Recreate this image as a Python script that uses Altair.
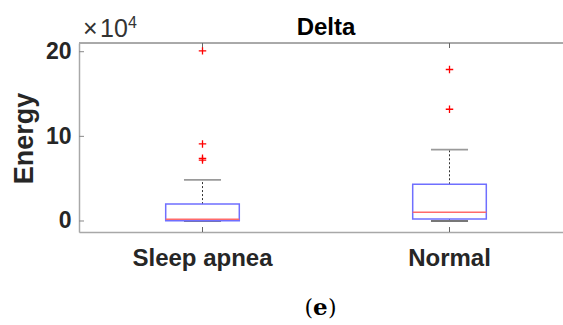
import altair as alt
import pandas as pd

# Delta-band energy (units of 10^4) per group
groups = ["Sleep apnea", "Normal"]
whisker_lo = [0.0, 0.0]
q1 = [0.02, 0.24]
median = [0.2, 1.03]
q3 = [2.0, 4.34]
whisker_hi = [4.85, 8.44]
outlier_group = ["Sleep apnea", "Sleep apnea", "Sleep apnea", "Sleep apnea", "Normal", "Normal"]
outlier_value = [7.2, 7.4, 9.1, 20.1, 13.2, 17.9]
y_ticks = [0, 10, 20]

W, H = 484, 189
X_DOMAIN = [0.5, 0.5 + W / 247.0]
Y_DOMAIN = [-1.3, 21.03]
BOX_HALF = 0.149
CAP_HALF = 0.075

stats = pd.DataFrame({
    "group": groups,
    "pos": list(range(1, len(groups) + 1)),
    "lo": whisker_lo, "q1": q1, "med": median, "q3": q3, "hi": whisker_hi,
})
pos_of = {g: i + 1 for i, g in enumerate(groups)}
outliers = pd.DataFrame({
    "pos": [pos_of[g] for g in outlier_group],
    "v": outlier_value,
})
yt = pd.DataFrame({"v": y_ticks})
xt = pd.DataFrame({"pos": list(range(1, len(groups) + 1))})

xs = alt.Scale(domain=X_DOMAIN, nice=False, zero=False)
ys = alt.Scale(domain=Y_DOMAIN, nice=False, zero=False)
AXIS_GRAY = "#a8a8a8"
TEXT = "#262626"

base = alt.Chart(stats).transform_calculate(
    b1=f"datum.pos - {BOX_HALF}", b2=f"datum.pos + {BOX_HALF}",
    c1=f"datum.pos - {CAP_HALF}", c2=f"datum.pos + {CAP_HALF}",
)

axes = alt.Chart(yt).mark_rule(opacity=0).encode(
    y=alt.Y("v:Q", scale=ys, axis=alt.Axis(
        values=y_ticks, title=None, ticks=False, grid=False,
        domainColor=AXIS_GRAY, domainWidth=1.5,
        labelFont="Liberation Sans", labelFontWeight="bold", labelFontSize=23,
        labelColor=TEXT, labelPadding=8)),
    x=alt.X("v:Q", scale=xs, axis=alt.Axis(
        values=[], title=None, ticks=False, grid=False, labels=False,
        domainColor=AXIS_GRAY, domainWidth=1.5)),
)

top_border = alt.Chart(yt).mark_rule(color=AXIS_GRAY, strokeWidth=1.5).encode(
    x=alt.value(0), x2=alt.value(W), y=alt.value(0))

ytick_marks = alt.Chart(yt).mark_rule(color="#888888", strokeWidth=1).encode(
    y=alt.Y("v:Q", scale=ys), x=alt.value(0), x2=alt.value(5))
xtick_bottom = alt.Chart(xt).mark_rule(color="#666666", strokeWidth=1).encode(
    x=alt.X("pos:Q", scale=xs), y=alt.value(H - 5), y2=alt.value(H))
xtick_top = alt.Chart(xt).mark_rule(color="#666666", strokeWidth=1).encode(
    x=alt.X("pos:Q", scale=xs), y=alt.value(0), y2=alt.value(5))

whisk_up = base.mark_rule(color="#333333", strokeWidth=1, strokeDash=[2, 2]).encode(
    x=alt.X("pos:Q", scale=xs), y=alt.Y("q3:Q", scale=ys), y2="hi:Q")
whisk_dn = base.mark_rule(color="#333333", strokeWidth=1, strokeDash=[2, 2]).encode(
    x=alt.X("pos:Q", scale=xs), y=alt.Y("lo:Q", scale=ys), y2="q1:Q")
cap_hi = base.mark_rule(color="#9a9a9a", strokeWidth=1.8).encode(
    x=alt.X("c1:Q", scale=xs), x2="c2:Q", y=alt.Y("hi:Q", scale=ys))
cap_lo = base.mark_rule(color="#777777", strokeWidth=1.8).encode(
    x=alt.X("c1:Q", scale=xs), x2="c2:Q", y=alt.Y("lo:Q", scale=ys))
box = base.mark_rect(fill="white", fillOpacity=0, stroke="#6f6fff", strokeWidth=1.5).encode(
    x=alt.X("b1:Q", scale=xs), x2="b2:Q", y=alt.Y("q1:Q", scale=ys), y2="q3:Q")
med = base.mark_rule(color="#ff6a6a", strokeWidth=1.5).encode(
    x=alt.X("b1:Q", scale=xs), x2="b2:Q", y=alt.Y("med:Q", scale=ys))

plus = alt.Chart(outliers).mark_point(
    shape="M-1,0L1,0M0,-1L0,1", filled=False, stroke="#ff0000", strokeWidth=1.3,
    size=56, opacity=1).encode(
    x=alt.X("pos:Q", scale=xs), y=alt.Y("v:Q", scale=ys))

xlabels = alt.Chart(stats).mark_text(
    font="Liberation Sans", fontWeight="bold", fontSize=24, color=TEXT,
    align="center", baseline="alphabetic").encode(
    x=alt.X("pos:Q", scale=xs), y=alt.value(223), text="group:N")

def label(txt, x, y, size, weight="normal", align="left", font="Liberation Sans",
          angle=0, color=TEXT, baseline="alphabetic"):
    kw = dict(text=txt, font=font, fontSize=size, fontWeight=weight, align=align,
              baseline=baseline, color=color)
    if angle:
        kw["angle"] = angle
    return alt.Chart(yt.head(1)).mark_text(**kw).encode(x=alt.value(x), y=alt.value(y))

title = label("Delta", 247, -8, 24, weight="bold", align="center", color="black")
ylab = label("Energy", -46, H / 2 + 1, 27, weight="bold", align="center", angle=270)
exp_x = label("×", 4, -6, 25, color="#333333")
exp_10 = label("10", 21, -6, 25, color="#333333")
exp_4 = label("4", 49, -15, 16, color="#333333")
cap_l = label("(", 234, 272, 22, align="right", font="DejaVu Serif", color="black")
cap_e = label("e", 234, 272, 23, weight="bold", align="left", font="DejaVu Serif", color="black")
cap_r = label(")", 249, 272, 22, align="left", font="DejaVu Serif", color="black")

chart = alt.layer(
    axes, top_border, ytick_marks, xtick_bottom, xtick_top,
    whisk_up, whisk_dn, cap_hi, cap_lo, box, med, plus, xlabels,
    title, ylab, exp_x, exp_10, exp_4, cap_l, cap_e, cap_r,
).properties(
    width=W, height=H,
    autosize=alt.AutoSizeParams(type="none"),
    padding={"left": 79, "top": 43, "right": 0, "bottom": 93},
).configure_view(stroke=None).configure(background="white")

chart.save("out.html", embed_options={"renderer": "svg", "actions": False})
